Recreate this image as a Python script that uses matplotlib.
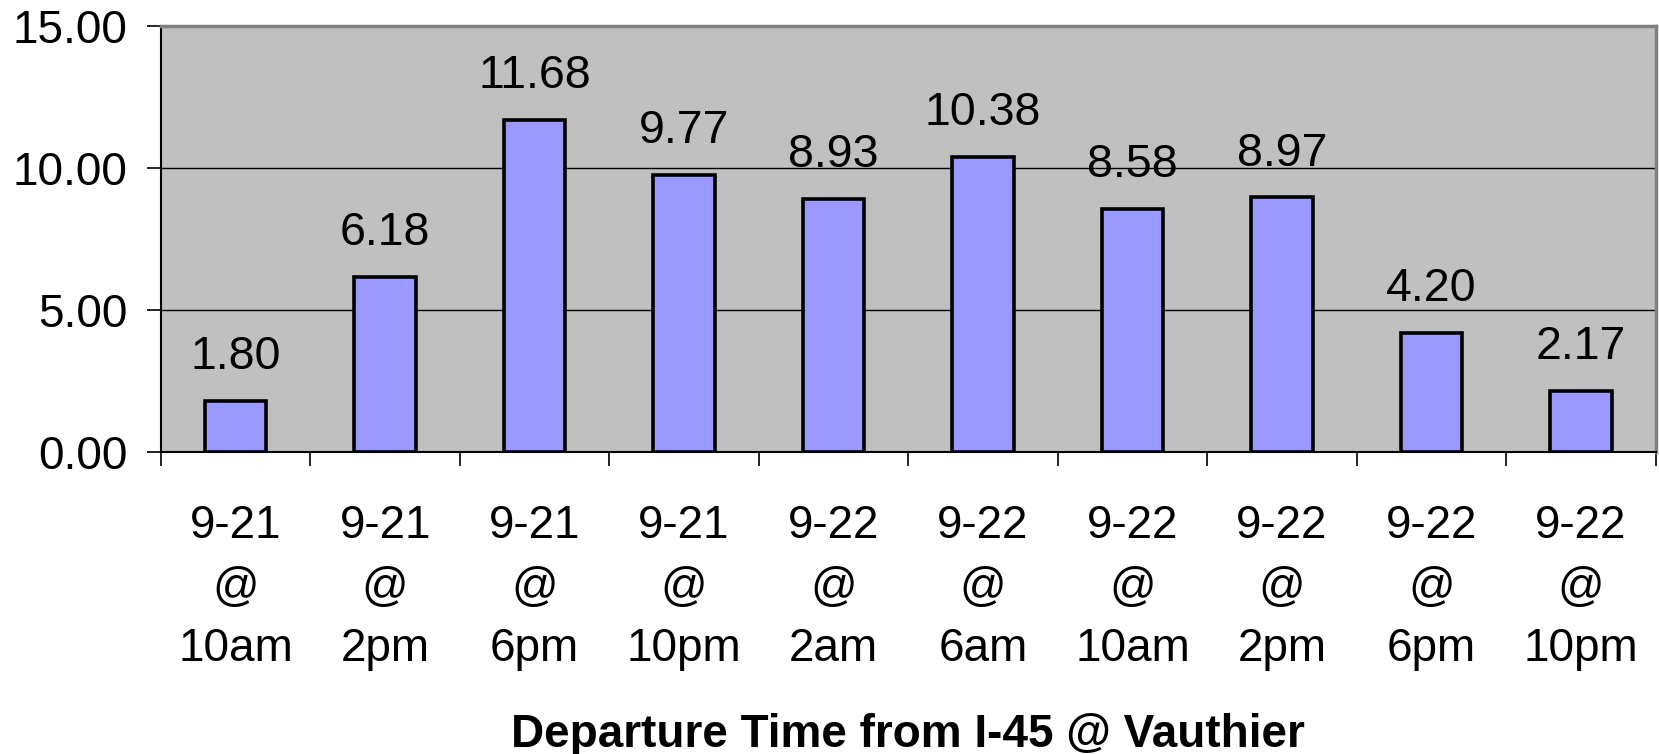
import numpy as np
import matplotlib
matplotlib.use("Agg")
import matplotlib.pyplot as plt

plt.rcParams['font.family'] = ['Liberation Sans', 'DejaVu Sans']

# 数据
dates = ["9-21", "9-21", "9-21", "9-21", "9-22", "9-22", "9-22", "9-22", "9-22", "9-22"]
hours = ["10am", "2pm", "6pm", "10pm", "2am", "6am", "10am", "2pm", "6pm", "10pm"]
values = [1.80, 6.18, 11.68, 9.77, 8.93, 10.38, 8.58, 8.97, 4.20, 2.17]
y_ticks = [0, 5, 10, 15]
x_title = "Departure Time from I-45 @ Vauthier"

fig = plt.figure(figsize=(16.59, 7.54), dpi=100)
ax = fig.add_axes([0.097, 0.3999, 0.901, 0.5656])
ax.set_facecolor("#C0C0C0")

x = np.arange(len(values))
ax.bar(x, values, width=0.41, color="#9999FF", edgecolor="black", linewidth=2.6, zorder=3)

for xi, v in zip(x, values):
    ax.annotate(f"{v:.2f}", (xi, v), xytext=(0, 23), textcoords="offset points",
                ha="center", va="baseline", fontsize=33.5)

ax.set_xlim(-0.5, len(values) - 0.5)
ax.set_ylim(0, 15)
ax.set_yticks(y_ticks)
ax.set_yticklabels([f"{t:.2f}" for t in y_ticks])
ax.yaxis.grid(True, color="black", linewidth=1.0, zorder=1)
ax.set_axisbelow(True)

ax.set_xticks(x)
ax.set_xticklabels([f"{d}\n@\n{h}" for d, h in zip(dates, hours)], linespacing=1.52)
ax.set_xticks(np.arange(len(values) + 1) - 0.5, minor=True)
ax.tick_params(axis="x", which="major", length=0, pad=37, labelsize=33)
ax.tick_params(axis="x", which="minor", length=10, width=1.2, color="black")
ax.tick_params(axis="y", length=10, width=1.2, pad=14, labelsize=33)

for side in ["top", "right"]:
    ax.spines[side].set_color("#808080")
    ax.spines[side].set_linewidth(2.5)
for side in ["left", "bottom"]:
    ax.spines[side].set_color("black")
    ax.spines[side].set_linewidth(1.5)

ax.set_xlabel(x_title, fontsize=33, fontweight="bold", labelpad=30)

fig.savefig("out.png", dpi=100)
